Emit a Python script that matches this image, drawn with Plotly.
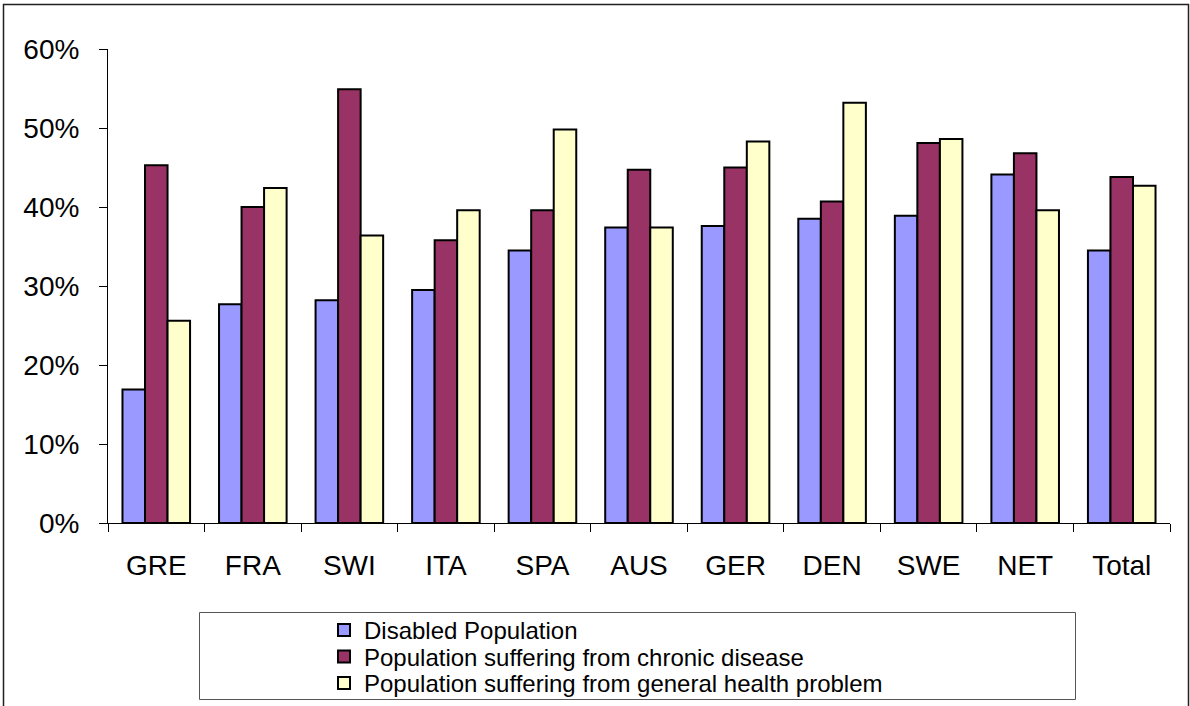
import plotly.graph_objects as go

categories = ["GRE", "FRA", "SWI", "ITA", "SPA", "AUS", "GER", "DEN", "SWE", "NET", "Total"]
disabled = [0.169, 0.277, 0.282, 0.295, 0.345, 0.374, 0.376, 0.385, 0.389, 0.441, 0.345]
chronic = [0.453, 0.400, 0.549, 0.358, 0.396, 0.447, 0.450, 0.407, 0.481, 0.468, 0.438]
general = [0.256, 0.424, 0.364, 0.396, 0.498, 0.374, 0.483, 0.532, 0.486, 0.396, 0.427]
series_names = ["Disabled Population",
                "Population suffering from chronic disease",
                "Population suffering from general health problem"]
series_colors = ["#9999FF", "#993366", "#FFFFCC"]
y_ticks = [0, 0.1, 0.2, 0.3, 0.4, 0.5, 0.6]

W, H = 1190, 706
ML, MR, MT, MB = 108, 20, 49, 183
PW, PH = W - ML - MR, H - MT - MB


def px(x):
    return (x - ML) / PW


def py(y):
    return (H - MB - y) / PH


FONT = "Liberation Sans, Arial, sans-serif"

fig = go.Figure()
legend_keys = ["legend", "legend2", "legend3"]
for vals, name, color, lk in zip([disabled, chronic, general], series_names, series_colors, legend_keys):
    fig.add_trace(go.Bar(
        x=categories, y=vals, name=name, legend=lk,
        marker=dict(color=color, line=dict(color="black", width=2)),
    ))

legend_rows = [630.5, 657.0, 683.5]
layout_legends = {}
for lk, row in zip(legend_keys, legend_rows):
    layout_legends[lk] = dict(
        x=px(324), xanchor="left", y=py(row), yanchor="middle",
        bgcolor="rgba(0,0,0,0)", borderwidth=0,
        font=dict(family=FONT, size=24, color="black"),
    )

fig.update_layout(
    template="none",
    width=W, height=H,
    margin=dict(l=ML, r=MR, t=MT, b=MB, pad=0, autoexpand=False),
    paper_bgcolor="white", plot_bgcolor="white",
    barmode="group", bargap=0.3, bargroupgap=0,
    showlegend=True,
    font=dict(family=FONT, size=28, color="black"),
    xaxis=dict(
        type="category", tickson="boundaries", ticks="outside", ticklen=8,
        tickcolor="black", tickwidth=1, showline=True, linecolor="black", linewidth=1,
        showgrid=False, automargin=False, tickfont=dict(size=28, family=FONT, color="black"),
        ticklabelstandoff=17,
    ),
    yaxis=dict(
        range=[0, 0.6], tickvals=y_ticks, tickformat=".0%", ticks="outside", ticklen=8,
        tickcolor="black", tickwidth=1, showline=True, linecolor="black", linewidth=1,
        showgrid=False, zeroline=False, automargin=False,
        tickfont=dict(size=28, family=FONT, color="black"),
        ticklabelstandoff=14,
    ),
    shapes=[
        dict(type="rect", xref="paper", yref="paper",
             x0=px(3.5), x1=px(1188.5), y0=py(740), y1=py(4.5),
             line=dict(color="#202020", width=1.5), fillcolor="rgba(0,0,0,0)", layer="below"),
        dict(type="rect", xref="paper", yref="paper",
             x0=px(199.5), x1=px(1075.5), y0=py(699.5), y1=py(612.5),
             line=dict(color="#555555", width=1), fillcolor="rgba(0,0,0,0)", layer="below"),
    ],
    **layout_legends,
)

fig.write_html(
    "out.html",
    config={"displayModeBar": False},
    post_script="document.body.style.margin='0px';document.body.style.overflow='hidden';",
)
